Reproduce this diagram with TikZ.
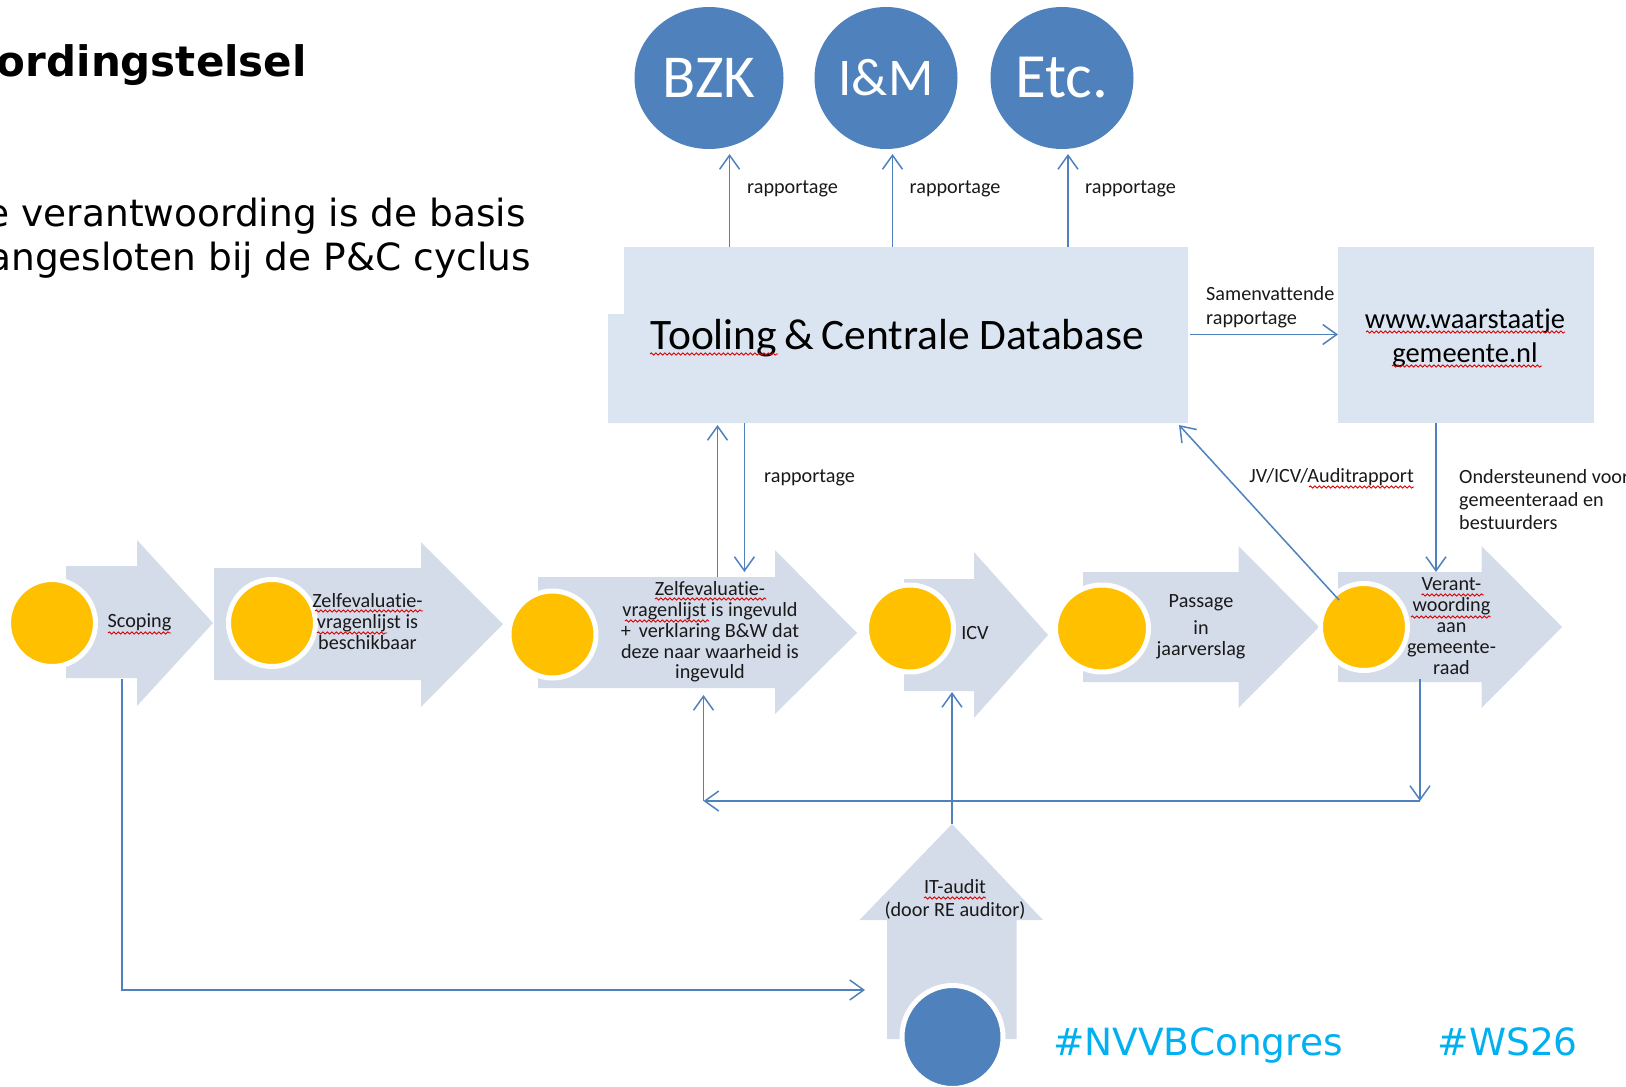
\documentclass[tikz,border=0pt]{standalone}
\usepackage{fontspec}
\setmainfont[Ligatures=NoCommon]{Carlito}
\newfontfamily\verd{DejaVu Sans}
\usetikzlibrary{arrows.meta,shapes.geometric,decorations.pathmorphing}
\definecolor{linkblue}{HTML}{4F81BD}
\definecolor{gold}{HTML}{FFC000}
\definecolor{pale}{HTML}{DBE5F1}
\definecolor{chev}{HTML}{D4DCEA}
\definecolor{hash}{HTML}{00B0F0}
\tikzset{
  conn/.style={draw=linkblue,line width=1.5pt,-{Straight Barb[length=14pt,width=20pt,line width=1.5pt]}},
  disc/.style={ellipse,inner sep=0pt,fill=gold,draw=white,line width=5pt},
  bluedisc/.style={ellipse,inner sep=0pt,fill=linkblue,text=white},
  small/.style={font=\fontsize{20.2}{21}\selectfont,inner sep=0pt,align=center,text=black!90},
  spell/.style={draw=red!85!black,line width=0.9pt,decorate,decoration={snake,amplitude=1.1pt,segment length=4.5pt}},
  hashtag/.style={font=\verd\fontsize{37.5}{40}\selectfont,text=hash,inner sep=0pt,anchor=base west},
  slide/.style={inner sep=0pt,anchor=base east,text=black}
}
\newcommand{\chevron}[8]{\fill[chev] (#1,#2) -- (#4,#2) -- (#4,#5) -- (#7,#8) -- (#4,#6) -- (#4,#3) -- (#1,#3) -- cycle;}
\begin{document}
\begin{tikzpicture}[x=1pt,y=-1pt]
\useasboundingbox (0,0) rectangle (1626,1087);
\clip (0,0) rectangle (1626,1087);
% slide text
\node[slide,font=\verd\bfseries\fontsize{42}{44}\selectfont] (title) at (307,76) {ordingstelsel};
\node[slide,font=\verd\fontsize{37.5}{40}\selectfont] (lineone) at (526,226) {e verantwoording is de basis};
\node[slide,font=\verd\fontsize{37.5}{40}\selectfont] (linetwo) at (531,270) {angesloten bij de P\&C cyclus};
% boxes
\fill[pale] (624,247) -- (1188,247) -- (1188,423) -- (608,423) -- (608,314) -- (624,314) -- cycle;
\node[inner sep=0pt,font=\fontsize{43.5}{46}\selectfont] (db) at (897.5,338) {Tooling\,\&\,Centrale Database};
\node[fill=pale,inner sep=0pt,minimum width=256pt,minimum height=176pt] (web) at (1466,335) {};
\node[inner sep=0pt,font=\fontsize{28.5}{34}\selectfont,align=center] (webt) at (1465,338) {www.waarstaatje\\gemeente.nl};
% top circles
\node[bluedisc,minimum width=149pt,minimum height=142pt,font=\fontsize{61}{60}\selectfont] (bzk) at (709,78) {BZK};
\node[bluedisc,minimum width=143pt,minimum height=142pt,font=\fontsize{53}{50}\selectfont] (im) at (886,78) {I\&M};
\node[bluedisc,minimum width=143pt,minimum height=142pt,font=\fontsize{63}{60}\selectfont] (etc) at (1062,78) {Etc.};
% process arrows
\chevron{66}{566}{678}{137}{540}{706}{213}{623}
\chevron{214}{568}{680}{421}{542}{707}{503}{624}
\chevron{538}{577}{688}{775}{550}{714}{857}{633}
\chevron{904}{579}{691}{974}{552}{718}{1048}{635}
\chevron{1083}{572}{682}{1238.5}{546}{708}{1319}{627}
\chevron{1338}{572}{682}{1481.5}{546}{708}{1562}{627}
% IT audit arrow
\fill[chev] (952,824) -- (1043,920) -- (1016.5,920) -- (1016.5,1039) -- (887,1039) -- (887,920) -- (859.5,920) -- cycle;
% discs
\node[disc,minimum width=87pt,minimum height=87pt] (d1) at (52,623) {};
\node[disc,minimum width=87pt,minimum height=87pt] (d2) at (272,623) {};
\node[disc,minimum width=87pt,minimum height=87pt] (d3) at (552.5,634.5) {};
\node[disc,minimum width=87pt,minimum height=87pt] (d4) at (910,628.5) {};
\node[disc,minimum width=93pt,minimum height=87pt] (d5) at (1102,628.5) {};
\node[disc,minimum width=87pt,minimum height=87pt] (d6) at (1364,627) {};
\node[ellipse,inner sep=0pt,fill=linkblue,draw=white,line width=5pt,minimum width=101pt,minimum height=103pt] (d7) at (952.5,1037) {};
% connector ends
\coordinate (bzkfrom) at (729.6,247); \coordinate (bzkto) at (729.6,154);
\coordinate (imfrom) at (892.5,247);  \coordinate (imto) at (892.5,154);
\coordinate (etcfrom) at (1068,247);  \coordinate (etcto) at (1068,154);
\coordinate (webfrom) at (1190,334.5); \coordinate (webto) at (1338,334.5);
\coordinate (upfrom) at (717.5,577);  \coordinate (upto) at (717.5,425);
\coordinate (dnfrom) at (744.4,423);  \coordinate (dnto) at (744.4,572);
\coordinate (diagfrom) at (1339,600); \coordinate (diagto) at (1179,425);
\coordinate (vfrom) at (1436,423);    \coordinate (vto) at (1436,572);
\coordinate (busr) at (1420,801);     \coordinate (busl) at (703.5,801);
\coordinate (busfrom) at (1420,679);  \coordinate (busup) at (703.5,695);
\coordinate (itfrom) at (952,824);    \coordinate (itto) at (952,692);
\coordinate (scfrom) at (122,679);    \coordinate (scbend) at (122,990); \coordinate (scto) at (865,990);
% connectors
\draw[conn] (bzkfrom) -- (bzkto);
\draw[conn] (imfrom) -- (imto);
\draw[conn] (etcfrom) -- (etcto);
\draw[conn] (webfrom) -- (webto);
\draw[conn] (upfrom) -- (upto);
\draw[conn] (dnfrom) -- (dnto);
\draw[conn] (diagfrom) -- (diagto);
\draw[conn] (vfrom) -- (vto);
\draw[conn] (busfrom) -- (busr);
\draw[conn] (busr) -- (busl);
\draw[conn] (busl) -- (busup);
\draw[conn] (itfrom) -- (itto);
\draw[conn] (scfrom) -- (scbend) -- (scto);
% labels
\node[small,anchor=west] (r1) at (747,189) {rapportage};
\node[small,anchor=west] (r2) at (909.5,189) {rapportage};
\node[small,anchor=west] (r3) at (1085,189) {rapportage};
\node[small,anchor=west] (r4) at (764,478) {rapportage};
\node[small,anchor=west,align=left,font=\fontsize{20.2}{24}\selectfont] (sam) at (1206,307) {Samenvattende\\rapportage};
\node[small,anchor=east] (jv) at (1414,477) {JV/ICV/Auditrapport};
\node[small,anchor=west,align=left,font=\fontsize{20.2}{23}\selectfont] (ond) at (1459,499.5) {Ondersteunend voor\\gemeenteraad en\\bestuurders};
\node[small] (t1) at (139.5,622) {Scoping};
\node[small,font=\fontsize{20.2}{21}\selectfont] (t2) at (367.5,622) {Zelfevaluatie-\\vragenlijst is\\beschikbaar};
\node[small,font=\fontsize{20.2}{20.8}\selectfont] (t3) at (710,632) {Zelfevaluatie-\\vragenlijst is ingevuld\\+\, verklaring B\&W dat\\deze naar waarheid is\\ingevuld};
\node[small] (t4) at (975,633) {ICV};
\node[small] (t5) at (1201,627) {Passage\\[6pt]in\\jaarverslag};
\node[small,font=\fontsize{20.2}{21}\selectfont] (t6) at (1451.5,626) {Verant-\\woording\\aan\\gemeente-\\raad};
\node[small,font=\fontsize{20.2}{23}\selectfont] (t7) at (955,899.5) {IT-audit\\(door RE auditor)};
\node[hashtag] (h1) at (1053,1055) {\#NVVBCongres};
\node[hashtag] (h2) at (1437.5,1055) {\#WS26};
% spelling marks
\draw[spell] (108,633) -- (171,633);
\draw[spell] (315,611) -- (423,611);
\draw[spell] (317,633) -- (387,633);
\draw[spell] (655,599) -- (766,599);
\draw[spell] (625,621) -- (709,621);
\draw[spell] (1309,487) -- (1414,487);
\draw[spell] (1421.5,595) -- (1484,595);
\draw[spell] (1411,617) -- (1490.5,617);
\draw[spell] (650,354) -- (778,354);
\draw[spell] (1366,332) -- (1565,332);
\draw[spell] (1392,366) -- (1542,366);
\draw[spell] (924,898) -- (986,898);
\end{tikzpicture}
\end{document}
